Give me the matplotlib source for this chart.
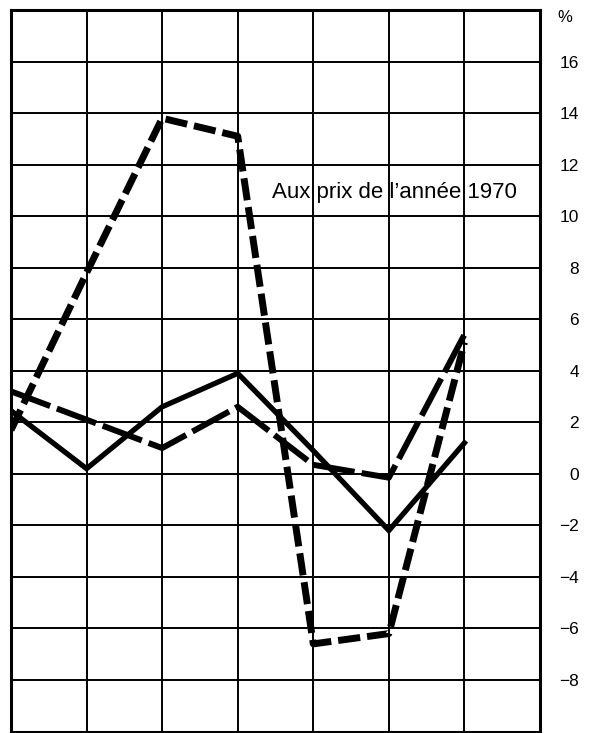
import numpy as np
import matplotlib.pyplot as plt

plt.rcParams['font.family'] = ['Liberation Sans', 'DejaVu Sans']

# annual change, %
periods = [0, 1, 2, 3, 4, 5, 6]
series_long_dash = [1.7, 7.8, 13.8, 13.1, -6.6, -6.2, 5.1]
series_solid = [2.45, 0.2, 2.6, 3.9, 0.9, -2.2, 1.2]
series_dash = [3.2, 2.1, 1.0, 2.6, 0.35, -0.15, 5.4]

y_ticks = [16, 14, 12, 10, 8, 6, 4, 2, 0, -2, -4, -6, -8]
y_labels = ['16', '14', '12', '10', '8', '6', '4', '2', '0',
            '\u22122', '\u22124', '\u22126', '\u22128']

fig = plt.figure(figsize=(5.97, 7.33), dpi=100)
ax = fig.add_axes([11 / 597, 1.5 / 733, 529 / 597, (731 - 9.5) / 733])

ax.set_xlim(0, 7)
ax.set_ylim(-10, 18)

# grid
for x in range(1, 7):
    ax.axvline(x, color='black', lw=1.4, zorder=1)
for y in range(-8, 18, 2):
    ax.axhline(y, color='black', lw=1.4, zorder=1)

for side in ['left', 'right', 'top', 'bottom']:
    ax.spines[side].set_linewidth(2.2)
    ax.spines[side].set_color('black')

ax.plot(periods, series_long_dash, color='black', lw=5.0,
        dashes=(3.2, 1.0), solid_joinstyle='miter', zorder=3)
ax.plot(periods, series_dash, color='black', lw=4.3,
        dashes=(7.0, 1.2), solid_joinstyle='miter', zorder=3)
ax.plot(periods, series_solid, color='black', lw=3.8,
        solid_joinstyle='miter', zorder=3)

ax.text(3.45, 10.9, "Aux prix de l\u2019ann\u00e9e 1970", fontsize=16,
        va='center', ha='left', zorder=2)

ax.set_xticks([])
ax.yaxis.tick_right()
ax.set_yticks(y_ticks)
ax.set_yticklabels(y_labels, fontsize=12.5, ha='right')
ax.tick_params(axis='y', length=0, pad=28)

ax.text(1.0 + 25 / 529, 17.7, '%', transform=ax.get_yaxis_transform(),
        fontsize=12, ha='center', va='center', clip_on=False)

fig.savefig('out.png', dpi=100, facecolor='white')
